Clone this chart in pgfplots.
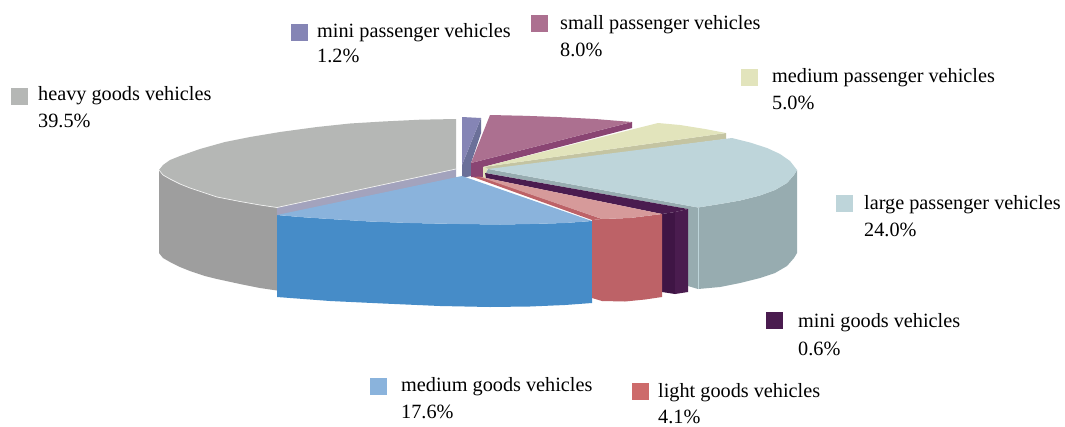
\documentclass[border=0pt]{standalone}
\usepackage{pgfplots}
\pgfplotsset{compat=1.18}
\usepackage{fontspec}
\setmainfont{Liberation Serif}
\definecolor{grayT}{HTML}{B5B7B5}\definecolor{grayS}{HTML}{9E9E9E}\definecolor{lav}{HTML}{A3A3BD}
\definecolor{blueT}{HTML}{8AB3DC}\definecolor{blueS}{HTML}{468CC8}
\definecolor{pinkT}{HTML}{D69A9A}\definecolor{redS}{HTML}{BD6267}
\definecolor{purL}{HTML}{3F1545}\definecolor{purR}{HTML}{4A1C4F}\definecolor{purT}{HTML}{55265C}
\definecolor{tealT}{HTML}{BED5DA}\definecolor{tealS}{HTML}{97ACB0}
\definecolor{begT}{HTML}{E2E4BC}\definecolor{begS}{HTML}{C4C4A2}
\definecolor{mauT}{HTML}{AC7090}\definecolor{mauS}{HTML}{8A4573}
\definecolor{minT}{HTML}{8585B5}\definecolor{minS}{HTML}{6B7099}
\definecolor{swRed}{HTML}{CD6B6B}
\tikzset{lab/.style={anchor=base west,inner sep=0pt,font=\fontsize{20.25pt}{24pt}\selectfont}}
\begin{document}
\begin{tikzpicture}
\begin{axis}[scale only axis,width=1065pt,height=426pt,xmin=0,xmax=1065,ymin=0,ymax=426,y dir=reverse,hide axis,clip=true,
  every axis plot/.append style={draw=none,line width=0pt}]
% white backing to hold the page size
\addplot[fill=white] coordinates {(0,0)(1065,0)(1065,426)(0,426)} --cycle;
% heavy goods side
\addplot[fill=grayS] coordinates {(159,170)(163,175)(170,179)(180,184)(190,188)(205,193)(217,197)(240,201.5)(260,205)(277,207.5)(277,290.5)(260,288)(240,284)(217,279)(205,276)(190,271)(180,267)(170,262)(163,258)(159,253)} --cycle;
% heavy inner sliver
\addplot[fill=lav] coordinates {(456,169)(277,207.5)(277,216)(462,177)(456,178)} --cycle;
% heavy top
\addplot[fill=grayT] coordinates {(456,119)(420,119.7)(383,121.5)(350,123.5)(317,127)(280,132)(250,137)(225,142)(200,149)(180,156)(170,160)(163,165)(159,170)(163,175)(170,179)(180,184)(190,188)(205,193)(217,197)(240,201.5)(260,205)(277,207.5)(456,169)} --cycle;
\addplot[draw=white!85!grayS,line width=0.7pt,fill=none] coordinates {(159,170)(163,175)(170,179)(180,184)(190,188)(205,193)(217,197)(240,201.5)(260,205)(277,207.5)(456,169)};
% mini passenger
\addplot[fill=minS] coordinates {(481,118)(481,133)(471,163)(471,176)(462,178)(462,165)} --cycle;
\addplot[fill=minT] coordinates {(462,117)(481,118)(462,165)} --cycle;
% small passenger
\addplot[fill=mauS] coordinates {(471,163)(632,122)(632,128)(483,167)(483,177)(471,177)} --cycle;
\addplot[fill=mauT] coordinates {(490,115)(525,115.8)(557,117)(595,119)(632,122)(471,163)} --cycle;
% medium passenger
\addplot[fill=begS] coordinates {(483,167)(726,133)(726,139)(488,170)(487,168)} --cycle;
\addplot[fill=begT] coordinates {(483,167)(658,123)(680,125)(705,129)(726,133)} --cycle;
\addplot[fill=begT] coordinates {(483,167)(483,178)(487,178)(487,168)} --cycle;
% large passenger
\addplot[fill=tealS] coordinates {(698,207.5)(720,204)(740,200.5)(760,195.5)(775,190)(787,183)(794,175)(797,170)(797,253)(794,258)(787,266)(775,273)(760,278)(740,283)(720,287)(698,289)} --cycle;
\addplot[fill=tealS] coordinates {(488,169)(698,207.5)(698,289)(688,286)(688,209)(486,173)} --cycle;
\addplot[fill=tealT] coordinates {(488,169)(732,138)(750,142.5)(767,148)(780,154)(790,161)(797,170)(794,175)(787,183)(775,190)(760,195.5)(740,200.5)(720,204)(698,207.5)} --cycle;
\addplot[draw=tealT,line width=0.6pt,fill=none] coordinates {(698,207.5)(698,289)};
% mini goods
\addplot[fill=purL] coordinates {(662,214)(675,212)(675,294)(662,292)} --cycle;
\addplot[fill=purR] coordinates {(675,212)(688,209)(688,292)(675,294)} --cycle;
\addplot[fill=purR] coordinates {(485,173)(688,209)(675,212)(662,214)(486,178)} --cycle;
% medium goods top
\addplot[fill=blueS] coordinates {(277,215)(300,217)(330,219)(370,221.5)(410,223)(460,224)(500,224.5)(530,224)(565,223)(592,221)(592,303)(565,305)(530,306.5)(490,307)(440,306)(383,303.5)(330,301)(277,297)} --cycle;
\addplot[fill=blueT] coordinates {(462,176)(592,221)(565,223)(530,224)(500,224.5)(460,224)(410,223)(370,221.5)(330,219)(300,217)(277,215)} --cycle;
% light goods
\addplot[fill=redS] coordinates {(592,220)(602,219)(602,301)(592,298)} --cycle;
\addplot[fill=redS] coordinates {(602,219)(630,218)(662,214)(662,297)(645,299.5)(625,301.5)(602,301)} --cycle;
\addplot[fill=redS] coordinates {(473,177)(480,176.5)(602,219)(592,220)} --cycle;
\addplot[fill=pinkT] coordinates {(480,177)(602,219)(630,218)(662,214)(486,178)} --cycle;
% legend swatches
\addplot[fill=minT] coordinates {(291,24)(308,24)(308,41)(291,41)} --cycle;
\addplot[fill=mauT] coordinates {(531,15)(548,15)(548,32)(531,32)} --cycle;
\addplot[fill=begT] coordinates {(741,69)(758,69)(758,86)(741,86)} --cycle;
\addplot[fill=tealT] coordinates {(836,195)(853,195)(853,212)(836,212)} --cycle;
\addplot[fill=purR] coordinates {(766,312)(783,312)(783,329)(766,329)} --cycle;
\addplot[fill=swRed] coordinates {(632,383)(649,383)(649,400)(632,400)} --cycle;
\addplot[fill=blueT] coordinates {(370,378)(387,378)(387,395)(370,395)} --cycle;
\addplot[fill=grayT] coordinates {(11,88)(28,88)(28,105)(11,105)} --cycle;
% labels
\node[lab] at (axis cs:317,37) {mini passenger vehicles};
\node[lab] at (axis cs:317,62.5) {1.2\%};
\node[lab] at (axis cs:560,29) {small passenger vehicles};
\node[lab] at (axis cs:560,56) {8.0\%};
\node[lab] at (axis cs:772,82) {medium passenger vehicles};
\node[lab] at (axis cs:772,109) {5.0\%};
\node[lab] at (axis cs:864,209) {large passenger vehicles};
\node[lab] at (axis cs:864,236) {24.0\%};
\node[lab] at (axis cs:798,327) {mini goods vehicles};
\node[lab] at (axis cs:798,355) {0.6\%};
\node[lab] at (axis cs:658,397) {light goods vehicles};
\node[lab] at (axis cs:658,423) {4.1\%};
\node[lab] at (axis cs:401,391) {medium goods vehicles};
\node[lab] at (axis cs:401,418) {17.6\%};
\node[lab] at (axis cs:38,100) {heavy goods vehicles};
\node[lab] at (axis cs:38,127) {39.5\%};
\end{axis}
\end{tikzpicture}
\end{document}
